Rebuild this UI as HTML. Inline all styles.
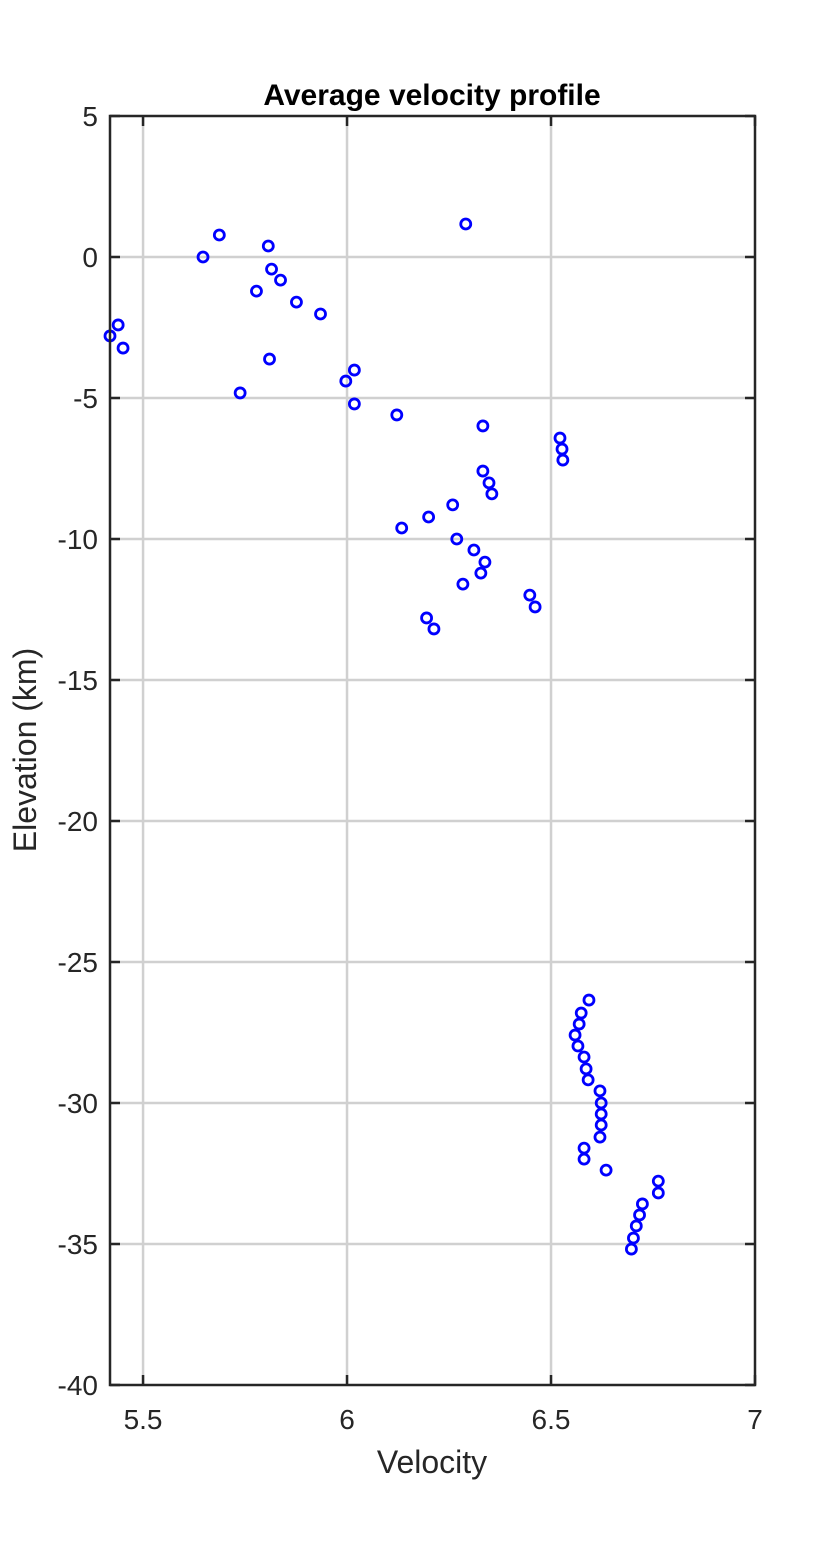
<!DOCTYPE html>
<html><head><meta charset="utf-8"><style>
body{margin:0;background:#fff;}
svg{display:block;font-family:"Liberation Sans",sans-serif;}
</style></head><body>
<svg id="chart" width="833" height="1556" viewBox="0 0 833 1556">
<rect width="833" height="1556" fill="#fff"/>
<g id="grid"></g>
<g id="ticks"></g>
<g id="points"></g>
<rect x="110" y="116" width="645" height="1269" fill="none" stroke="#262626" stroke-width="2.5"/>
<text x="432" y="105" text-anchor="middle" font-size="30" font-weight="bold" fill="#000">Average velocity profile</text>
<text x="432" y="1473" text-anchor="middle" font-size="32" fill="#262626">Velocity</text>
<text transform="translate(36,750) rotate(-90)" text-anchor="middle" font-size="32" fill="#262626">Elevation (km)</text>
</svg>
<script>
const xTicks=[5.5,6,6.5,7];
const xTickLabels=["5.5","6","6.5","7"];
const yTicks=[5,0,-5,-10,-15,-20,-25,-30,-35,-40];
const yTickLabels=["5","0","-5","-10","-15","-20","-25","-30","-35","-40"];
const velocity=[5.419,5.439,5.451,5.647,5.687,5.738,5.778,5.807,5.815,5.837,5.810,5.876,5.935,5.997,6.018,6.018,6.122,6.291,6.333,6.522,6.527,6.529,6.333,6.348,6.355,6.259,6.200,6.134,6.269,6.311,6.338,6.328,6.284,6.448,6.461,6.195,6.213,
6.593,6.574,6.569,6.559,6.566,6.581,6.586,6.591,6.620,6.623,6.623,6.623,6.620,6.581,6.581,6.635,6.763,6.763,6.724,6.717,6.709,6.702,6.697];
const elevation=[-2.80,-2.41,-3.23,0.0,0.78,-4.82,-1.21,0.39,-0.43,-0.82,-3.62,-1.60,-2.02,-4.40,-4.01,-5.21,-5.60,1.17,-5.99,-6.42,-6.81,-7.20,-7.59,-8.01,-8.40,-8.79,-9.22,-9.61,-10.0,-10.39,-10.82,-11.21,-11.60,-11.99,-12.41,-12.80,-13.19,
-26.35,-26.81,-27.20,-27.59,-27.98,-28.37,-28.79,-29.18,-29.57,-30.0,-30.39,-30.78,-31.21,-31.60,-31.99,-32.38,-32.77,-33.19,-33.58,-33.97,-34.36,-34.79,-35.18];
const NS="http://www.w3.org/2000/svg";
const X0=110,X1=755,Y0=116,Y1=1385,xmin=5.419,xmax=7,ymin=-40,ymax=5;
const sx=v=>X0+(v-xmin)/(xmax-xmin)*(X1-X0);
const sy=v=>Y1-(v-ymin)/(ymax-ymin)*(Y1-Y0);
function mk(tag,attrs,parent){const e=document.createElementNS(NS,tag);for(const k in attrs)e.setAttribute(k,attrs[k]);parent.appendChild(e);return e;}
const grid=document.getElementById('grid'),ticks=document.getElementById('ticks'),pts=document.getElementById('points'),svg=document.getElementById('chart');
xTicks.forEach((t,i)=>{const x=sx(t);
 if(t<xmax){const g=mk('line',{x1:x,x2:x,y1:Y0,y2:Y1,stroke:'#d0d0d0','stroke-width':2.5},grid);}
 const a=mk('line',{x1:x,x2:x,y1:Y1,y2:Y1-10,stroke:'#262626','stroke-width':2.5},ticks);
 const b=mk('line',{x1:x,x2:x,y1:Y0,y2:Y0+10,stroke:'#262626','stroke-width':2.5},ticks);
 const l=mk('text',{x:x,y:1429,'text-anchor':'middle','font-size':28,fill:'#262626'},svg);l.textContent=xTickLabels[i];
 });
yTicks.forEach((t,i)=>{const y=sy(t);
 if(t<ymax&&t>ymin){const g=mk('line',{x1:X0,x2:X1,y1:y,y2:y,stroke:'#d0d0d0','stroke-width':2.5},grid);}
 const a=mk('line',{x1:X0,x2:X0+10,y1:y,y2:y,stroke:'#262626','stroke-width':2.5},ticks);
 const b=mk('line',{x1:X1,x2:X1-10,y1:y,y2:y,stroke:'#262626','stroke-width':2.5},ticks);
 const l=mk('text',{x:98,y:y+10,'text-anchor':'end','font-size':28,fill:'#262626'},svg);l.textContent=yTickLabels[i];
 });
velocity.forEach((v,i)=>{const c=mk('circle',{cx:sx(v),cy:sy(elevation[i]),r:5,fill:'none',stroke:'#0000ff','stroke-width':2.8},pts);
 });
</script>
</body></html>
